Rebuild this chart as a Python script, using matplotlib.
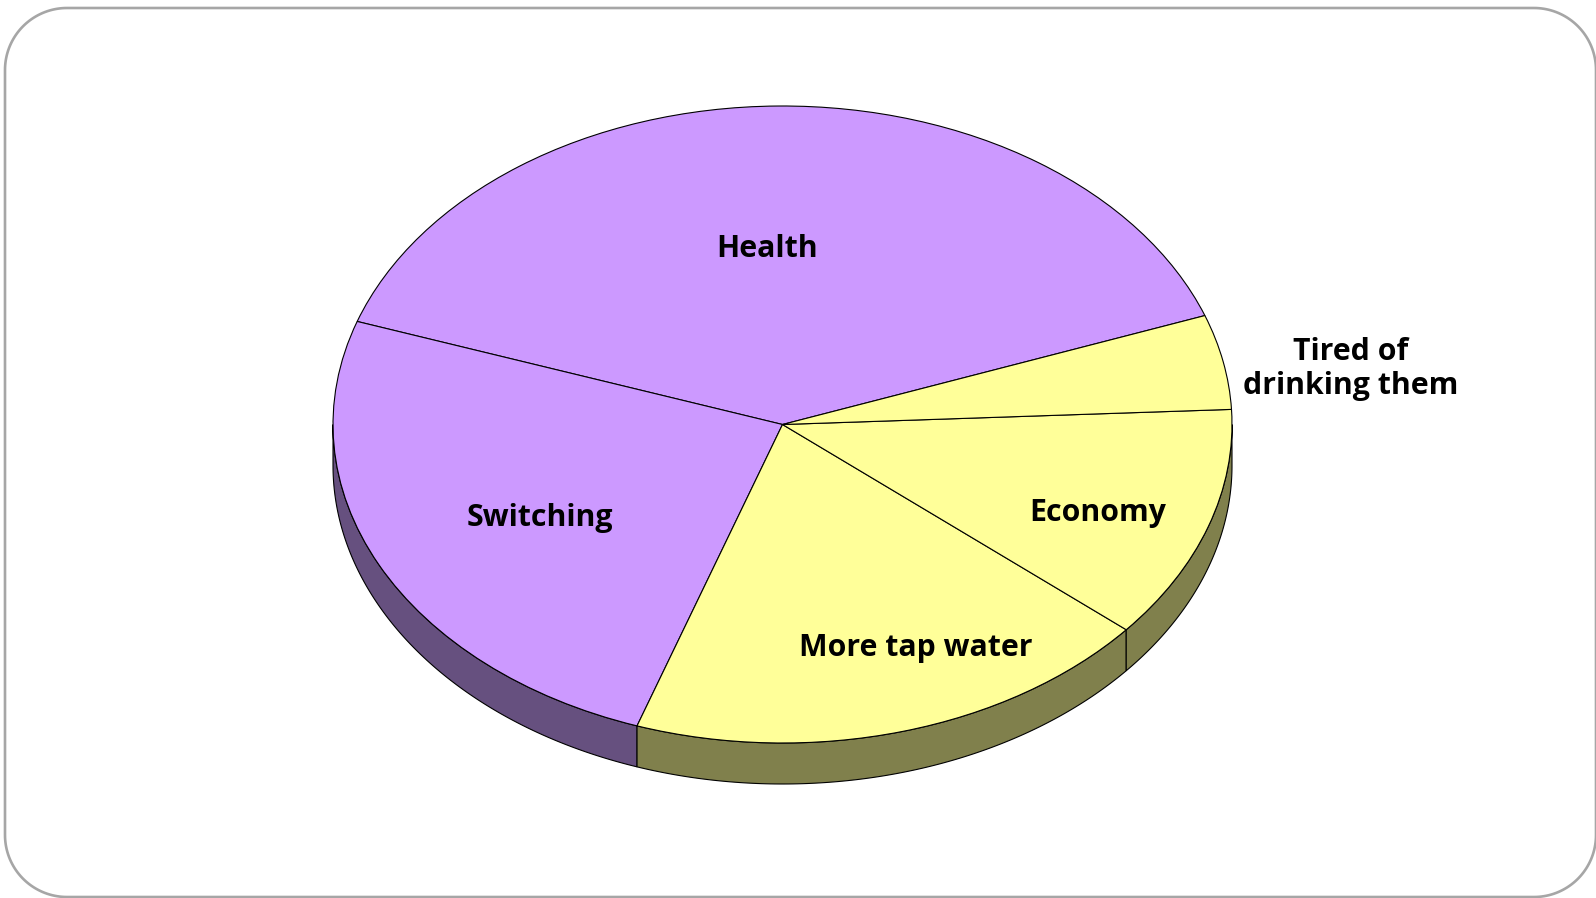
import matplotlib
matplotlib.use("Agg")
import matplotlib.pyplot as plt
import numpy as np

# reasons for drinking fewer soft drinks, share in percent
labels = ["Health", "Switching", "More tap water", "Economy", "Tired of\ndrinking them"]
values = [39.2, 25.0, 19.1, 11.9, 4.8]
colors = ["#CC99FF", "#CC99FF", "#FFFF99", "#FFFF99", "#FFFF99"]
side_colors = ["#66507F", "#66507F", "#80804C", "#80804C", "#80804C"]
label_x = [767, 540, 916, 1098, 1351]
label_y = [249, 518, 648, 513, 369]

W, H = 1596, 898
PIE_LEFT, PIE_RIGHT, PIE_TOP, PIE_BOTTOM = 333, 1232, 106, 743
DEPTH_PX = 41
START = 20
FONT = "Open Sans"

fig = plt.figure(figsize=(W / 100, H / 100), dpi=100, facecolor="white")

# pixel-coordinate layer for the slide frame and the labels
bg = fig.add_axes([0, 0, 1, 1])
bg.set_xlim(0, W)
bg.set_ylim(H, 0)
bg.axis("off")

# slide frame: rectangle with circular corners
l, r, t, b, rad = 5, 1596, 8, 897, 62
corners = [(l + rad, t + rad, 180, 270), (r - rad, t + rad, 270, 360),
           (r - rad, b - rad, 0, 90), (l + rad, b - rad, 90, 180)]
fx, fy = [], []
for cx, cy, a0, a1 in corners:
    th = np.radians(np.linspace(a0, a1, 40))
    fx.extend(cx + rad * np.cos(th))
    fy.extend(cy + rad * np.sin(th))
bg.fill(fx, fy, fc="white", ec="#A6A6A6", lw=1.9, clip_on=False)

# pie on unit circle, axes box squashes it into an ellipse
ax = fig.add_axes([PIE_LEFT / W, 1 - PIE_BOTTOM / H,
                   (PIE_RIGHT - PIE_LEFT) / W, (PIE_BOTTOM - PIE_TOP) / H])
ax.patch.set_alpha(0)
depth = DEPTH_PX / ((PIE_BOTTOM - PIE_TOP) / 2)

# side wall, only the part facing the viewer (180-360 deg)
edges = START + np.cumsum([0] + values) * 3.6
for i in range(len(values)):
    for shift in (0, 360):
        a0 = max(edges[i], 180 + shift)
        a1 = min(edges[i + 1], 360 + shift)
        if a1 <= a0:
            continue
        t_ = np.radians(np.linspace(a0, a1, 120))
        xs = np.r_[np.cos(t_), np.cos(t_[::-1])]
        ys = np.r_[np.sin(t_), np.sin(t_[::-1]) - depth]
        ax.fill(xs, ys, fc=side_colors[i], ec="black", lw=0.8, clip_on=False, zorder=1)

wedges, _ = ax.pie(values, colors=colors, startangle=START, counterclock=True,
                   radius=1, wedgeprops={"edgecolor": "black", "linewidth": 0.8})
for w in wedges:
    w.set_zorder(2)
    w.set_clip_on(False)
ax.set_aspect("auto")
ax.set_xlim(-1, 1)
ax.set_ylim(-1, 1)

# labels on top of everything
top = fig.add_axes([0, 0, 1, 1])
top.set_xlim(0, W)
top.set_ylim(H, 0)
top.axis("off")
for name, x, y in zip(labels, label_x, label_y):
    top.text(x, y, name, ha="center", va="center", family=FONT,
             fontweight="bold", fontsize=21.8, color="black", linespacing=1.17)

fig.savefig("out.png", dpi=100)
